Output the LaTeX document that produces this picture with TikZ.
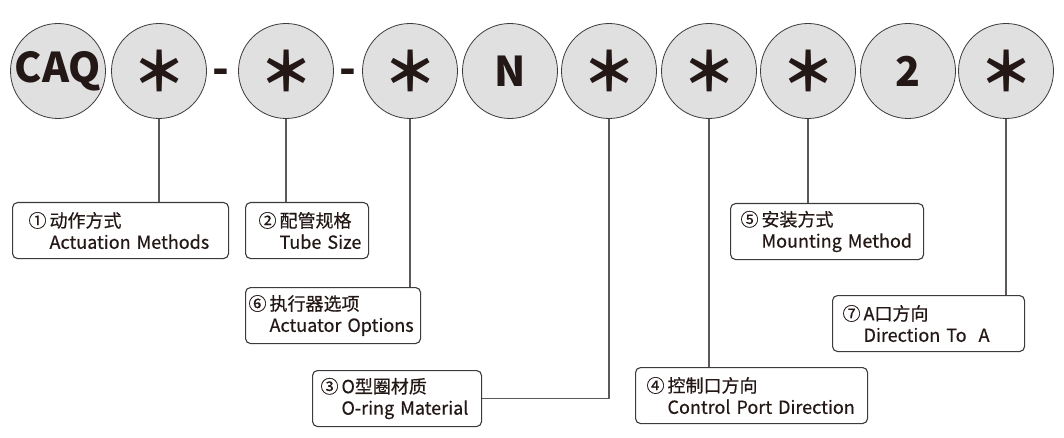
\documentclass[tikz,border=0pt]{standalone}
\usepackage{fontspec}
\setmainfont{Noto Sans CJK SC}
\newfontfamily\notefont{Noto Sans CJK SC}[FakeBold=0.5]
\definecolor{ink}{HTML}{231815}
\definecolor{rim}{HTML}{3E3A39}
\definecolor{disc}{HTML}{E0E0E1}
\begin{document}
\begin{tikzpicture}[x=1pt, y=-1pt,
    slot/.style={circle, draw=rim, line width=0.8pt, fill=disc, minimum size=95pt, inner sep=0pt, text=ink, font=\fontsize{41}{41}\selectfont\bfseries},
    wild/.style={slot, font=\fontsize{54}{54}\selectfont\bfseries},
    dash line/.style={text=ink, font=\fontsize{44}{44}\selectfont\bfseries},
    note/.style={draw=rim, line width=1.1pt, rounded corners=5pt, anchor=north west, align=left, minimum height=56pt, inner ysep=0pt, text=ink, font=\notefont\fontsize{18}{21.5}\selectfont},
    link/.style={draw=rim!85, line width=1.2pt}]
    \useasboundingbox (0,0) rectangle (1064,438);
    \node[slot] (caq) at (58,71) {CAQ};
    \node[wild] (m1) at (159,71) {＊};
    \node[wild] (m2) at (286,71) {＊};
    \node[wild] (m3) at (410,71) {＊};
    \node[slot] (nn) at (510,71) {N};
    \node[wild] (m4) at (609,71) {＊};
    \node[wild] (m5) at (709,71) {＊};
    \node[wild] (m6) at (808,71) {＊};
    \node[slot] (two) at (908,71) {2};
    \node[wild] (m7) at (1006,71) {＊};
    \node[dash line] (d1) at (221,77) {-};
    \node[dash line] (d2) at (348,77) {-};

    \node[note, text width=184pt, inner xsep=16pt] (b1) at (12,202) {\makebox[21pt][l]{①}动作方式\\\hspace*{21pt}Actuation~Methods};
    \node[note, text width=97pt, inner xsep=13pt] (b2) at (245,202) {\makebox[21pt][l]{②}配管规格\\\hspace*{21pt}Tube~Size};
    \node[note, text width=169pt, inner xsep=3pt] (b6) at (245,287) {\makebox[21pt][l]{⑥}执行器选项\\\hspace*{21pt}Actuator~Options};
    \node[note, text width=153pt, inner xsep=8pt] (b3) at (312,370) {\makebox[21pt][l]{③}O型圈材质\\\hspace*{21pt}O-ring~Material};
    \node[note, text width=210pt, inner xsep=11pt] (b4) at (635,367) {\makebox[21pt][l]{④}控制口方向\\\hspace*{21pt}Control~Port~Direction};
    \node[note, text width=173pt, inner xsep=10pt] (b5) at (730,203) {\makebox[21pt][l]{⑤}安装方式\\\hspace*{21pt}Mounting~Method};
    \node[note, text width=172pt, inner xsep=10pt] (b7) at (832,295) {\makebox[21pt][l]{⑦}A口方向\\\hspace*{21pt}Direction~To~~A};

    \draw[link] (m1.south) -- (m1.south |- b1.north);
    \draw[link] (m2.south) -- (m2.south |- b2.north);
    \draw[link] (m3.south) -- (m3.south |- b6.north);
    \draw[link] (m4.south) |- (b3.east);
    \draw[link] (m5.south) -- (m5.south |- b4.north);
    \draw[link] (m6.south) -- (m6.south |- b5.north);
    \draw[link] (m7.south) -- (m7.south |- b7.north);
\end{tikzpicture}
\end{document}
